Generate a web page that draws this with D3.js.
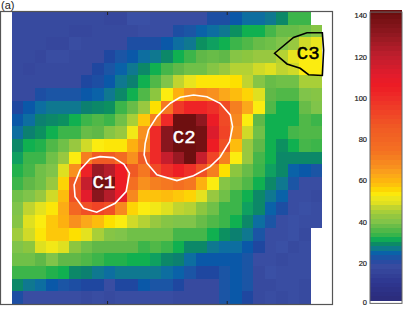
<!DOCTYPE html>
<html lang="en">
<head>
    <meta charset="UTF-8">
    <title>Heat map</title>
    <script src="https://cdn.jsdelivr.net/npm/d3@7"></script>
    <style>
        html, body { margin: 0; padding: 0; background: #fff; }
        svg { display: block; }
        text { font-family: "Liberation Sans", sans-serif; fill: #222; }
    </style>
</head>
<body>
<div id="graphDiv"></div>
<script>
    // cell values, one row per line, null = no cell
    var cells = [
        [17,17,17,17,17,17,17,17,16,16,19,19,18,18,18,18,18,21,21,23,25,25,26,28,33,33,null],
        [17,17,17,17,17,16,16,17,17,17,17,18,18,18,21,22,24,25,26,29,31,31,34,37,37,38,40],
        [17,17,17,16,16,18,17,17,17,17,21,21,21,23,25,26,29,30,31,33,35,37,38,39,42,47,50],
        [17,17,16,18,18,17,17,17,20,22,23,25,26,28,31,33,36,37,36,40,41,42,42,45,50,52,52],
        [17,16,17,17,17,17,17,20,22,24,26,28,31,34,36,38,38,40,42,45,45,47,48,46,47,52,52],
        [17,17,17,17,17,17,20,21,23,26,27,31,35,39,46,50,53,53,53,54,46,40,37,38,38,44,44],
        [17,17,21,22,22,22,23,24,26,28,31,35,41,52,60,66,68,66,62,58,55,48,36,35,35,39,40],
        [20,23,25,26,26,26,27,28,29,33,37,42,54,72,95,102,102,98,90,70,62,52,35,31,31,37,39],
        [23,25,27,28,29,31,33,35,33,38,44,56,70,100,140,140,130,106,90,68,52,36,31,31,31,35,33],
        [25,27,29,31,33,33,37,36,40,42,51,66,100,132,140,140,138,112,92,66,47,38,31,31,34,35,35],
        [28,31,32,35,38,42,47,52,53,53,60,68,100,132,140,140,138,105,88,58,42,36,31,29,31,34,33],
        [30,33,33,38,42,52,70,85,85,76,66,85,100,118,128,140,118,92,70,52,42,34,31,28,28,28,28],
        [32,34,38,39,48,66,103,128,122,105,85,72,90,98,104,98,88,70,54,41,37,33,30,28,24,23,22],
        [33,36,38,42,55,85,118,138,138,105,74,66,70,72,74,72,60,52,40,38,35,31,28,26,22,18,18],
        [38,39,42,47,58,88,110,132,122,108,68,57,57,58,56,55,49,42,38,33,31,28,26,24,18,18,17],
        [39,46,49,53,61,78,88,92,88,68,55,52,51,48,46,45,41,38,33,33,30,28,24,21,18,19,18],
        [40,48,52,56,60,66,62,58,54,52,47,45,42,40,39,39,37,35,33,31,28,25,22,18,19,18,18],
        [43,47,53,56,56,54,49,44,40,39,38,38,38,38,34,34,34,31,29,27,26,22,18,18,19,17,null],
        [39,41,48,51,48,41,38,36,36,36,36,33,35,33,31,28,28,26,25,25,23,20,18,19,17,18,null],
        [38,38,36,39,36,36,35,33,32,32,31,31,30,28,27,25,23,23,23,23,22,18,18,17,18,18,null],
        [33,33,33,32,31,28,27,26,25,26,26,26,26,25,24,22,20,20,22,23,22,17,19,18,18,18,null],
        [28,26,25,23,22,21,20,20,18,20,20,23,22,22,20,17,17,17,22,23,22,17,17,18,18,17,null],
        [21,18,18,18,18,18,17,18,17,18,18,18,18,18,17,17,17,17,22,23,20,17,18,17,18,17,null]
    ];

    // colour map
    var colorValues = [0,10,17,19,20,22,23,24,25,26,27,28,29,30,31,32,33,34,35,36,38,39,41,42,44,46,48,50,52,54,56,60,62,66,70,74,85,90,100,105,110,120,130,140];
    var colorRange = ["#2b2a78","#2e3790","#374a9f","#3a50a5","#1f47a0","#1b55a5","#0a58a8","#0a62a8","#0d6ea0","#0f7890","#0c8070","#0c8868","#0c9060","#0fa060","#10b050","#22b14c","#3cb54a","#45b64a","#50b848","#60b848","#70c048","#80c44a","#8cc63f","#98c840","#a8cf38","#c0d430","#dfe020","#e8e41e","#fbec10","#fde000","#fdc80a","#fdb010","#fba81a","#f8901e","#f57f20","#f46f22","#f05a24","#f04a26","#ee2a28","#ed1c24","#e31c2c","#be1e2d","#901820","#6e0f10"];

    // cluster outlines in cell units [col, row]
    var c1Outline = [[7.67,11.39],[8.83,11.47],[9.76,12.0],[10.23,12.7],[9.94,14.15],[8.98,15.07],[7.38,15.77],[6.22,15.46],[5.49,14.54],[5.41,13.62],[5.93,12.44],[6.8,11.57]];
    var c2Outline = [[13.78,7.19],[14.65,6.72],[15.81,6.54],[16.97,6.67],[18.13,7.19],[19.01,8.11],[19.21,9.03],[18.95,10.21],[18.13,11.42],[17.26,12.18],[15.81,12.89],[14.36,13.28],[12.62,12.83],[11.74,11.89],[11.51,11.26],[11.6,10.34],[11.88,9.29],[12.62,8.24],[13.34,7.56]];
    var c3Outline = [[22.87,3.25],[24.52,2.0],[25.69,1.63],[27.03,1.63],[27.14,3.0],[27.03,5.0],[25.83,4.94],[25.1,4.43],[23.95,4.09]];

    var clusterNames = ["C1", "C2", "C3"];
    var clusterLabels = [[8.0,13.5],[15.0,9.9],[25.8,3.3]];
    var clusterColors = ["#fff", "#fff", "#000"];

    var xTicks = [8.28, 18.7];
    var barTicks = [0,20,40,60,80,100,120,140];
    var barLevels = d3.range(2, 141.6, 2.2);

    var svg = d3.select("#graphDiv").append("svg")
        .attr("width", 407)
        .attr("height", 315);

    var x = d3.scaleLinear().domain([0, 27]).range([12, 322]);
    var y = d3.scaleLinear().domain([0, 23]).range([12, 304]);
    var color = d3.scaleLinear().domain(colorValues).range(colorRange);

    svg.append("text").attr("x", 1).attr("y", 9).style("font-size", "11px").text("(a)");

    // heat map cells
    var cellData = [];
    cells.forEach(function (row, r) {
        row.forEach(function (v, c) {
            if (v !== null)
                cellData.push({r: r, c: c, v: v});
        });
    });

    svg.append("g").selectAll("rect")
        .data(cellData).enter().append("rect")
        .attr("shape-rendering", "crispEdges")
        .attr("x", function (d) { return x(d.c); })
        .attr("y", function (d) { return y(d.r); })
        .attr("width", function (d) { return x(d.c + 1) - x(d.c); })
        .attr("height", function (d) { return y(d.r + 1) - y(d.r); })
        .style("fill", function (d) { return color(d.v); });

    // frame and the two ticks
    var frameLeft = x.invert(0.5), frameRight = x.invert(332.5);
    svg.append("rect")
        .attr("x", x(frameLeft))
        .attr("y", y(0) - 0.5)
        .attr("width", x(frameRight) - x(frameLeft))
        .attr("height", y(23) - y(0) + 1)
        .style("fill", "none")
        .style("stroke", "#555")
        .style("stroke-width", 1.2);

    var tickAxis = function (g, dir) {
        g.call(dir(x).tickValues(xTicks).tickSize(3).tickFormat(""));
        g.select(".domain").remove();
        g.selectAll("line").style("stroke", "#222");
    };
    svg.append("g").attr("transform", "translate(0," + y(0) + ")")
        .call(tickAxis, function (s) { return d3.axisBottom(s); });
    svg.append("g").attr("transform", "translate(0," + y(23) + ")")
        .call(tickAxis, function (s) { return d3.axisTop(s); });

    // cluster outlines and names
    var outline = d3.line()
        .x(function (d) { return x(d[0]); })
        .y(function (d) { return y(d[1]); })
        .curve(d3.curveLinearClosed);

    [c1Outline, c2Outline, c3Outline].forEach(function (pts, i) {
        svg.append("path")
            .attr("d", outline(pts))
            .style("fill", "none")
            .style("stroke", clusterColors[i])
            .style("stroke-width", 1.6);
        svg.append("text")
            .attr("x", x(clusterLabels[i][0]))
            .attr("y", y(clusterLabels[i][1]))
            .attr("text-anchor", "middle")
            .attr("dominant-baseline", "central")
            .style("font-family", "'Liberation Mono', monospace")
            .style("font-size", "19px")
            .style("fill", clusterColors[i])
            .style("stroke", clusterColors[i])
            .style("stroke-width", 0.5)
            .text(clusterNames[i]);
    });

    // colour bar
    var barLeft = 370, barWidth = 32;
    var barY = d3.scaleLinear().domain([0, 140]).range([304.4, 15.4]);

    svg.append("g").selectAll("rect")
        .data(barLevels).enter().append("rect")
        .attr("shape-rendering", "crispEdges")
        .attr("x", barLeft)
        .attr("width", barWidth)
        .attr("y", function (d) { return barY(d + 2.2); })
        .attr("height", barY(0) - barY(2.2) + 0.5)
        .style("fill", function (d) { return color(d); });

    svg.append("rect")
        .attr("x", barLeft)
        .attr("y", barY(141.6))
        .attr("width", barWidth)
        .attr("height", barY(0) - barY(141.6) - 1)
        .style("fill", "none")
        .style("stroke", "#666")
        .style("stroke-width", 1);

    var barAxis = svg.append("g")
        .attr("transform", "translate(" + barLeft + ",0)")
        .call(d3.axisLeft(barY).tickValues(barTicks).tickSize(0).tickPadding(3));
    barAxis.select(".domain").remove();
    barAxis.selectAll("text")
        .style("font-family", "'Liberation Sans', sans-serif")
        .style("font-size", "7.5px")
        .style("fill", "#222")
        .style("stroke", "#222")
        .style("stroke-width", 0.2)
        .attr("dy", function (d) { return d === 0 ? "-0.02em" : "0.32em"; });
</script>
</body>
</html>
